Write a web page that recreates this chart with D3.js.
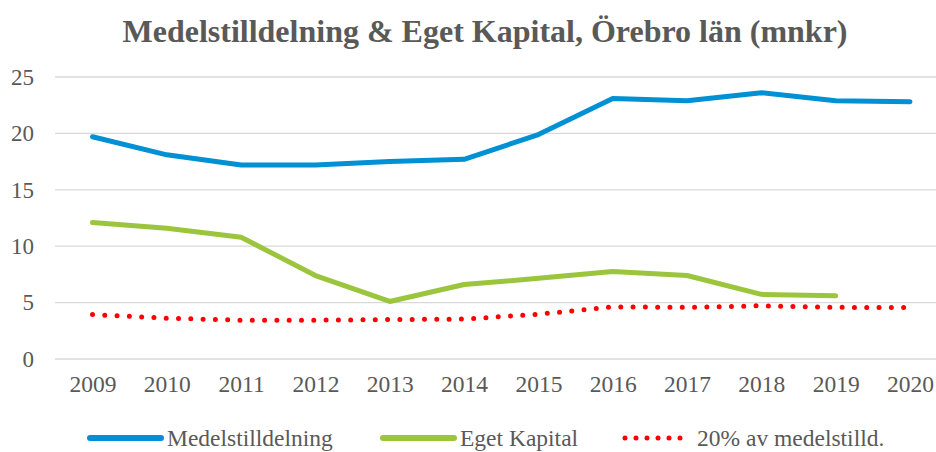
<!DOCTYPE html>
<html>
<head>
<meta charset="utf-8">
<script src="https://cdn.jsdelivr.net/npm/d3@7"></script>
<style>
  body { margin: 0; background: #fff; }
  text { font-family: "Liberation Serif", "Times New Roman", serif; fill: #595959; }
</style>
</head>
<body>
<svg id="chart"></svg>
<script>
const years = ['2009', '2010', '2011', '2012', '2013', '2014', '2015', '2016', '2017', '2018', '2019', '2020'];
const medelstilldelning = [19.7, 18.1, 17.2, 17.2, 17.5, 17.7, 19.9, 23.1, 22.9, 23.6, 22.9, 22.8];
const egetKapital = [12.1, 11.6, 10.8, 7.4, 5.1, 6.6, 7.15, 7.75, 7.4, 5.73, 5.6, null];
const tjugoProcent = [3.94, 3.62, 3.44, 3.44, 3.5, 3.54, 3.97, 4.62, 4.58, 4.72, 4.58, 4.56];
const yTicks = [0, 5, 10, 15, 20, 25];

const series = [
  { name: 'Medelstilldelning', values: medelstilldelning, color: '#0090d4', dash: null },
  { name: 'Eget Kapital', values: egetKapital, color: '#9bc53d', dash: null },
  { name: '20% av medelstilld.', values: tjugoProcent, color: '#ff0000', dash: '0 12.3' }
];

const width = 936, height = 452;
const svg = d3.select('#chart').attr('width', width).attr('height', height);

// scales
const x = d3.scalePoint().domain(years).range([92.5, 910]);
const y = d3.scaleLinear().domain([0, 25]).range([359, 77]);

// title
svg.append('text')
  .attr('x', 485).attr('y', 42)
  .attr('text-anchor', 'middle')
  .style('font-size', '32px').style('font-weight', 'bold')
  .text('Medelstilldelning & Eget Kapital, Örebro län (mnkr)');

// gridlines
svg.append('g')
  .selectAll('line')
  .data(yTicks)
  .join('line')
  .attr('x1', 55).attr('x2', 936)
  .attr('y1', d => y(d)).attr('y2', d => y(d))
  .attr('stroke', '#d9d9d9').attr('stroke-width', 1.3);

// y axis labels
const yAxis = d3.axisLeft(y).tickValues(yTicks).tickSize(0).tickPadding(0);
const yG = svg.append('g').attr('transform', 'translate(34,0)').call(yAxis);
yG.select('.domain').remove();
yG.selectAll('text').style('font-size', '23px').attr('fill', '#595959').style('font-family', null);

// x axis labels
const xAxis = d3.axisBottom(x).tickSize(0).tickPadding(0);
const xG = svg.append('g').attr('transform', 'translate(0,375)').call(xAxis);
xG.select('.domain').remove();
xG.selectAll('text').style('font-size', '23.5px').attr('fill', '#595959').style('font-family', null);

// lines
const line = d3.line()
  .defined(d => d != null)
  .x((d, i) => x(years[i]))
  .y(d => y(d));

svg.append('g')
  .selectAll('path')
  .data(series)
  .join('path')
  .attr('d', d => line(d.values))
  .attr('fill', 'none')
  .attr('stroke', d => d.color)
  .attr('stroke-width', 5)
  .attr('stroke-linecap', 'round')
  .attr('stroke-linejoin', 'round')
  .attr('stroke-dasharray', d => d.dash);

// legend
const legendX = [90, 383, 625];
const legend = svg.append('g')
  .selectAll('g')
  .data(series)
  .join('g')
  .attr('transform', (d, i) => `translate(${legendX[i]},438)`);

legend.append('line')
  .attr('x1', 0).attr('x2', d => d.dash ? 66 : 71)
  .attr('y1', 0).attr('y2', 0)
  .attr('stroke', d => d.color)
  .attr('stroke-width', d => d.dash ? 5 : 6)
  .attr('stroke-linecap', 'round')
  .attr('stroke-dasharray', d => d.dash ? '0 11' : null);

legend.append('text')
  .attr('x', d => d.dash ? 72 : 77)
  .attr('y', 8)
  .style('font-size', '23.5px')
  .text(d => d.name);
</script>
</body>
</html>
